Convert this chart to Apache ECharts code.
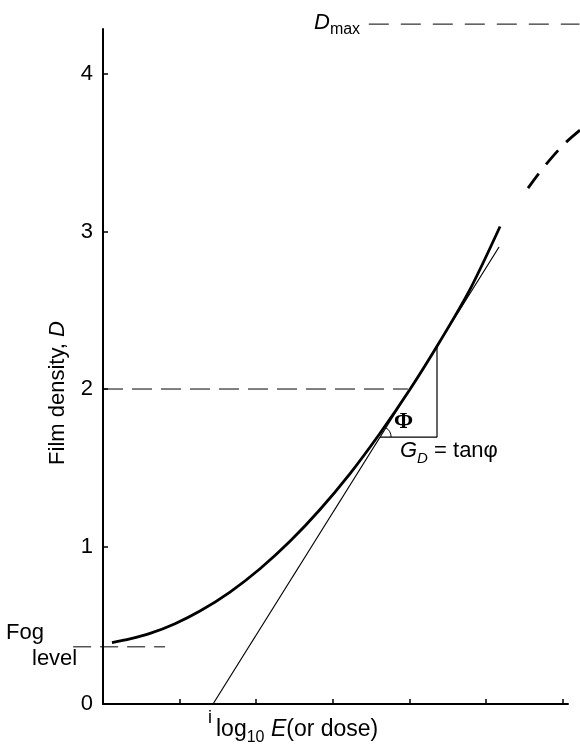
<!DOCTYPE html>
<html>
<head>
<meta charset="utf-8">
<script src="https://cdn.jsdelivr.net/npm/echarts@6/dist/echarts.min.js"></script>
<style>html,body{margin:0;padding:0;background:#fff}#c{width:580px;height:750px}</style>
</head>
<body>
<div id="c"></div>
<script>
// characteristic curve (thick)
const curveX = [0.117, 0.352, 0.614, 0.940, 1.266, 1.658, 2.050, 2.441, 2.833, 3.225, 3.616, 4.008, 4.399, 4.791, 5.183];
const curveY = [0.390, 0.413, 0.448, 0.510, 0.590, 0.711, 0.859, 1.033, 1.235, 1.463, 1.719, 1.998, 2.303, 2.633, 3.032];
// tangent line
const tangentX = [1.436, 5.170];
const tangentY = [0, 2.902];
// gradient triangle
const triX = [3.617, 4.360, 4.360];
const triY = [1.695, 1.695, 2.267];
// dashed reference lines
const level2X = [0, 3.98];
const level2Y = [2, 2];
const fogX = [-0.39, 0.81];
const fogY = [0.363, 0.363];
const dmaxX = [3.47, 6.22];
const dmaxY = [4.317, 4.317];
// saturation shoulder (dashed)
const shoulderX = [5.548, 5.744, 6.005, 6.227];
const shoulderY = [3.276, 3.403, 3.549, 3.644];
// axis ticks
const yTicks = [0, 1, 2, 3, 4];
const xTicks = [0, 1, 2, 3, 4, 5, 6];

const zip = (a, b) => a.map((v, i) => [v, b[i]]);
const FONT = 'Liberation Sans, Arial, Helvetica, sans-serif';

const chart = echarts.init(document.getElementById('c'), null, {renderer: 'canvas'});
const base = {type: 'line', symbol: 'none', silent: true, animation: false};
chart.setOption({
  animation: false,
  grid: {left: 103, right: 12, top: 29, bottom: 46},
  xAxis: {
    type: 'value', min: 0, max: 6.07, interval: 1,
    axisLine: {show: true, onZero: false, lineStyle: {color: '#000', width: 2}},
    axisTick: {show: true, inside: true, length: 5, lineStyle: {color: '#000', width: 1.5}, customValues: xTicks},
    axisLabel: {show: false},
    splitLine: {show: false}
  },
  yAxis: {
    type: 'value', min: 0, max: 4.286, interval: 1,
    axisLine: {show: true, onZero: false, lineStyle: {color: '#000', width: 2}},
    axisTick: {show: true, inside: true, length: 5, lineStyle: {color: '#000', width: 1.5}, customValues: yTicks},
    axisLabel: {show: true, color: '#000', fontSize: 22, fontFamily: FONT, margin: 10, customValues: yTicks},
    splitLine: {show: false}
  },
  series: [
    Object.assign({}, base, {data: zip(curveX, curveY), smooth: 0.3, lineStyle: {color: '#000', width: 2.8}}),
    Object.assign({}, base, {data: zip(tangentX, tangentY), lineStyle: {color: '#000', width: 1.2}}),
    Object.assign({}, base, {data: zip(triX, triY), lineStyle: {color: '#000', width: 1.2}}),
    Object.assign({}, base, {data: zip(level2X, level2Y), lineStyle: {color: '#000', width: 1, type: [20, 9]}})
  ]
});

const px = (x, y) => chart.convertToPixel({gridIndex: 0}, [x, y]);
const toPts = (xs, ys) => xs.map((v, i) => px(v, ys[i]));
const vtx = px(triX[0], triY[0]);
const tA = px(tangentX[0], tangentY[0]);
const tB = px(tangentX[1], tangentY[1]);
const ang = Math.atan2(tB[1] - tA[1], tB[0] - tA[0]);

chart.setOption({
  graphic: [
    // dashed lines that reach outside the plotting frame
    {type: 'polyline', shape: {points: toPts(fogX, fogY)}, style: {stroke: '#000', lineWidth: 1, lineDash: [18, 9], fill: 'none'}},
    {type: 'polyline', shape: {points: toPts(dmaxX, dmaxY)}, style: {stroke: '#000', lineWidth: 1, lineDash: [20, 12], fill: 'none'}},
    {type: 'polyline', shape: {points: toPts(shoulderX, shoulderY), smooth: 0.3}, style: {stroke: '#000', lineWidth: 2.8, lineDash: [18, 12], fill: 'none'}},
    {type: 'text', left: 6, top: 622, style: {text: 'Fog', font: '22px ' + FONT, fill: '#000'}},
    {type: 'text', left: 32, top: 648, style: {text: 'level', font: '22px ' + FONT, fill: '#000'}},
    {type: 'text', left: 208, top: 709, style: {text: 'i', font: '18px ' + FONT, fill: '#000'}},
    {type: 'text', x: 58, y: 393, rotation: Math.PI / 2,
      style: {text: '{n|Film density,}{i| D}', align: 'center', verticalAlign: 'middle',
        rich: {n: {fontSize: 22, fontFamily: FONT, fill: '#000'}, i: {fontSize: 22, fontFamily: FONT, fontStyle: 'italic', fill: '#000'}}}},
    {type: 'text', left: 216, top: 718,
      style: {text: '{n|log}{s|10}{i| E}{n|(or dose)}',
        rich: {
          n: {fontSize: 23, fontFamily: FONT, fill: '#000', lineHeight: 28, verticalAlign: 'top'},
          i: {fontSize: 23, fontFamily: FONT, fontStyle: 'italic', fill: '#000', lineHeight: 28, verticalAlign: 'top'},
          s: {fontSize: 16, fontFamily: FONT, fill: '#000', lineHeight: 16, verticalAlign: 'bottom'}
        }}},
    {type: 'text', left: 314, top: 12,
      style: {text: '{i|D}{s|max}',
        rich: {
          i: {fontSize: 22, fontFamily: FONT, fontStyle: 'italic', fill: '#000', lineHeight: 26, verticalAlign: 'top'},
          s: {fontSize: 16, fontFamily: FONT, fill: '#000', lineHeight: 16, verticalAlign: 'bottom'}
        }}},
    {type: 'text', left: 400, top: 440,
      style: {text: '{i|G}{s|D}{n| = tanφ}',
        rich: {
          i: {fontSize: 22, fontFamily: FONT, fontStyle: 'italic', fill: '#000', lineHeight: 26, verticalAlign: 'top'},
          s: {fontSize: 15, fontFamily: FONT, fontStyle: 'italic', fill: '#000', lineHeight: 15, verticalAlign: 'bottom'},
          n: {fontSize: 22, fontFamily: FONT, fill: '#000', lineHeight: 26, verticalAlign: 'top'}
        }}},
    {type: 'text', left: 394, top: 411, style: {text: 'Φ', font: 'bold 23px Liberation Serif, DejaVu Serif, serif', fill: '#000'}},
    {type: 'arc', shape: {cx: vtx[0], cy: vtx[1], r: 11, startAngle: ang, endAngle: 0, clockwise: true},
      style: {stroke: '#000', lineWidth: 1, fill: 'none'}}
  ]
});
</script>
</body>
</html>
